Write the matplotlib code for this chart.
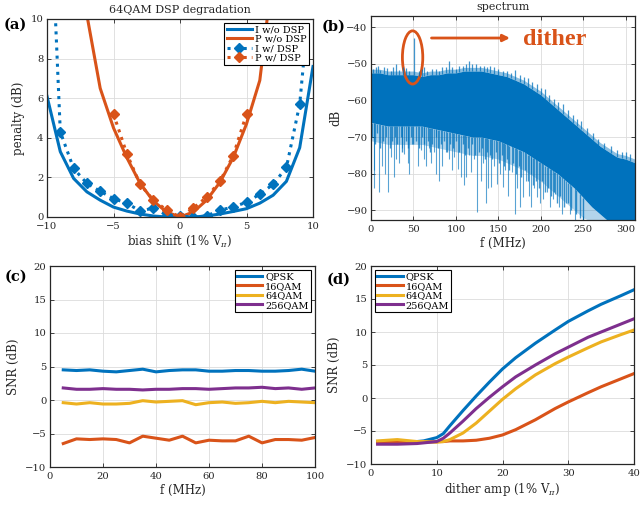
import matplotlib
matplotlib.use("Agg")
import matplotlib.pyplot as plt
from matplotlib.patches import Ellipse
import numpy as np

plt.rcParams["font.family"] = ["DejaVu Serif"]
plt.rcParams["mathtext.fontset"] = "dejavuserif"

BLUE = "#0072BD"
ORANGE = "#D95319"
YELLOW = "#EDB120"
PURPLE = "#7E2F8E"
INK = "#262626"

# ---------------- (a) 64QAM DSP degradation ----------------
bias = [-10, -9, -8, -7, -6, -5, -4, -3, -2, -1, 0, 1, 2, 3, 4, 5, 6, 7, 8, 9, 10]
i_wo_dsp = [6.1, 3.3, 1.95, 1.27, 0.85, 0.5, 0.3, 0.15, 0.05, 0.0, 0.0,
            0.0, 0.05, 0.15, 0.28, 0.42, 0.7, 1.1, 1.8, 3.5, 7.6]
p_wo_bias = [-7, -6, -5, -4, -3, -2, -1, 0, 1, 2, 3, 4, 5, 6, 7]
p_wo_dsp = [10.2, 6.5, 4.5, 3.0, 1.7, 0.8, 0.25, 0.0, 0.25, 0.85, 1.75, 3.0, 4.7, 6.9, 12.5]
i_w_dsp = [20.0, 4.3, 2.45, 1.7, 1.3, 0.93, 0.7, 0.3, 0.45, 0.1, 0.05,
           0.0, 0.05, 0.35, 0.5, 0.75, 1.15, 1.65, 2.5, 5.7, 12.9]
p_w_bias = [-5, -4, -3, -2, -1, 0, 1, 2, 3, 4, 5]
p_w_dsp = [5.2, 3.2, 1.65, 0.85, 0.35, 0.0, 0.45, 1.0, 1.8, 3.1, 5.2]

# ---------------- (b) spectrum ----------------
env_f = [0, 10, 20, 30, 40, 50, 60, 70, 80, 90, 100, 110, 120, 130, 140, 150,
         160, 170, 180, 190, 200, 210, 220, 230, 240, 250, 260, 270, 280, 290, 300, 311]
env_top = [-51.5, -51.5, -52, -52, -52, -52, -52.5, -52, -52, -51.5, -51.5, -51,
           -51, -51, -51.5, -52, -52.5, -53.5, -54.5, -56, -57.5, -59.5, -61.5,
           -63.5, -65.5, -67.5, -69.5, -71.5, -73, -74.5, -75, -76]
env_dark = [-52.5, -52.5, -53, -53, -53, -53, -53.5, -53, -53, -52.5, -52.5, -52,
            -52, -52, -52.5, -53, -53.5, -54.5, -55.5, -57, -58.5, -60.5, -62.5,
            -64.5, -66.5, -68.5, -70.5, -72.5, -74, -75.5, -76, -77]
env_core = [-66, -66.5, -67, -67, -67, -67, -67, -67.5, -68, -68.5, -69, -69.5, -70,
            -70, -70.5, -71, -72, -73, -74, -75.5, -77, -78.5, -80, -82, -84, -86.5,
            -89, -91, -93, -93, -93, -93]
env_light = [-71, -71.5, -72, -72, -72, -72, -72, -72.5, -73, -73.5, -74, -74.5,
             -75, -75, -75.5, -76, -77, -78, -79, -80.5, -82, -84, -86, -88, -90,
             -92, -93, -93, -93, -93, -93, -93]
# deep downward strands
dip_f = [3, 4, 9, 13, 16, 20, 23.5, 27, 30, 33, 36, 39, 43, 45, 48, 55, 59, 62, 65,
         68, 70.5, 74.4, 77, 80, 84, 88, 92, 95, 98, 102, 106, 109, 112, 115, 117.5,
         121, 125, 129, 132, 135, 138, 141, 145, 149, 152, 155, 158, 161.7, 165.6,
         169.5, 172, 175, 179, 183, 186, 189, 192, 195, 199, 203, 207, 211, 214, 217,
         221, 225, 230, 234, 240]
dip_db = [-84, -79, -85, -78, -80, -85, -75.5, -81, -76, -77, -73, -74.5, -77, -80,
          -72, -78, -73.6, -76, -78, -73, -77, -74, -80, -82, -78, -74, -76, -79,
          -75.5, -78.6, -81, -83, -81, -75, -79.5, -76, -90.5, -82, -77, -88, -84,
          -83.6, -78, -82.7, -80, -83.6, -79, -86, -79.5, -91, -84, -89, -86.4, -82,
          -86, -89, -84, -86.4, -88, -87, -85, -89, -87, -85.5, -89, -91, -88, -91,
          -92.7]
# shallower downward strands just under the dense core
mid_f = [1, 5, 7, 11, 14, 18, 22, 25, 28, 31, 35, 37, 41, 44, 47, 50, 53, 57, 60, 63,
         67, 69, 72, 76, 79, 82, 86, 90, 93, 97, 100, 104, 108, 111, 114, 119, 123,
         127, 131, 134, 137, 140, 143, 147, 151, 154, 157, 160, 163, 167, 171, 174,
         177, 181, 185, 188, 191, 194, 198, 201, 205, 208, 212, 216, 219, 223, 227,
         232, 236, 242, 246, 250]
mid_db = [-70, -72, -69, -73, -71, -70, -73, -71, -70, -72, -70, -74, -71, -73, -70,
          -72, -71, -73, -70, -72, -71, -74, -72, -70, -73, -72, -71, -74, -72, -73,
          -71, -74, -72, -75, -73, -72, -75, -74, -73, -76, -74, -75, -76, -74, -77,
          -75, -78, -76, -79, -77, -80, -78, -81, -79, -82, -80, -83, -82, -84, -82,
          -85, -84, -86, -85, -88, -86, -89, -88, -90, -91, -92, -92.5]
# upward strands on the top edge (dither tone at 50 MHz)
peak_f = [2, 6, 8, 11, 15, 19, 23, 26, 29, 33, 38, 41, 45, 51, 57, 60, 63, 66, 72,
          76, 80, 84, 88, 92, 96, 100, 104, 108, 112, 115.5, 119, 124, 128, 133, 137,
          140, 145, 150, 155, 160, 165, 169.5, 175, 180, 185, 190, 195, 200, 205, 210,
          215, 220, 226, 232, 238, 243, 247, 255, 262, 268, 275, 283, 290, 296, 300,
          305]
peak_db = [-51.5, -50.8, -50.5, -51.8, -51, -51.2, -52, -51, -50.2, -51.8, -51, -51.3,
           -52, -43, -52, -51.5, -51, -52, -51.5, -51.5, -52, -51, -51, -49.3, -50.8,
           -51.5, -50.5, -50.5, -50, -49.3, -50.2, -50, -50.5, -50.5, -51, -50.5, -51,
           -51.5, -52, -52, -52.5, -51.6, -53, -53.5, -54, -55, -55.5, -56.5, -57,
           -58.5, -59.5, -60.5, -61, -62.5, -64, -65, -65.5, -67.5, -69, -70.5, -71.5,
           -72.5, -73.5, -74, -74, -74.5]

# ---------------- (c) SNR vs f ----------------
f_mhz = [5, 10, 15, 20, 25, 30, 35, 40, 45, 50, 55, 60, 65, 70, 75, 80, 85, 90, 95, 100]
c_qpsk = [4.5, 4.4, 4.5, 4.3, 4.2, 4.4, 4.6, 4.2, 4.4, 4.5, 4.5, 4.3, 4.3, 4.4, 4.4,
          4.3, 4.3, 4.4, 4.6, 4.3]
c_16qam = [-6.5, -5.8, -5.9, -5.8, -5.9, -6.4, -5.4, -5.7, -6.0, -5.4, -6.4, -6.0,
           -6.1, -6.1, -5.4, -6.4, -5.9, -5.9, -6.0, -5.6]
c_64qam = [-0.4, -0.6, -0.4, -0.6, -0.6, -0.5, -0.1, -0.3, -0.2, -0.1, -0.7, -0.4,
           -0.3, -0.5, -0.4, -0.2, -0.4, -0.2, -0.3, -0.4]
c_256qam = [1.8, 1.6, 1.6, 1.7, 1.6, 1.6, 1.5, 1.6, 1.6, 1.7, 1.7, 1.6, 1.7, 1.8,
            1.8, 1.9, 1.7, 1.8, 1.6, 1.8]

# ---------------- (d) SNR vs dither amplitude ----------------
amp = [1, 4, 7, 8, 10, 11, 12, 14, 16, 18, 20, 22, 25, 28, 30, 33, 35, 38, 40]
d_qpsk = [-6.6, -6.6, -6.6, -6.5, -6.0, -5.4, -4.2, -1.9, 0.3, 2.4, 4.4, 6.1, 8.3,
          10.3, 11.6, 13.2, 14.2, 15.5, 16.4]
d_16qam = [-6.8, -6.7, -6.7, -6.7, -6.6, -6.6, -6.5, -6.5, -6.4, -6.1, -5.6, -4.8,
           -3.3, -1.6, -0.6, 0.8, 1.7, 2.9, 3.7]
d_64qam = [-6.5, -6.3, -6.6, -6.6, -6.7, -6.6, -6.3, -5.3, -3.8, -2.0, -0.2, 1.4,
           3.5, 5.2, 6.2, 7.6, 8.5, 9.6, 10.3]
d_256qam = [-7.0, -7.0, -6.9, -6.8, -6.6, -6.1, -5.3, -3.5, -1.6, 0.1, 1.7, 3.2,
            5.0, 6.7, 7.7, 9.2, 10.0, 11.2, 12.0]


def style(ax):
    ax.tick_params(direction="in", top=True, right=True, length=3, width=0.6,
                   labelsize=7.2, colors=INK, pad=2.5)
    ax.tick_params(axis="x", pad=3.5)
    ax.grid(True, color="#dcdcdc", lw=0.6)
    ax.set_axisbelow(True)
    for s in ax.spines.values():
        s.set_color(INK)
        s.set_linewidth(0.9)


def boxed_legend(ax, loc):
    leg = ax.legend(loc=loc, fontsize=7, handlelength=2.6, labelspacing=0.05,
                    borderpad=0.25, handletextpad=0.3, borderaxespad=0.4,
                    fancybox=False, framealpha=1)
    leg.get_frame().set_edgecolor("black")
    leg.get_frame().set_linewidth(0.8)


fig = plt.figure(figsize=(6.41, 5.05), dpi=100)
W, H = 641.0, 505.0


def add_axes(l, r, t, b):
    return fig.add_axes([l / W, 1 - b / H, (r - l) / W, (b - t) / H])


ax_a = add_axes(47, 313, 19, 217)
ax_b = add_axes(371, 635, 16, 220)
ax_c = add_axes(50, 315, 266, 467)
ax_d = add_axes(371, 634, 266, 464)

# (a)
ax = ax_a
style(ax)
ax.plot(bias, i_wo_dsp, color=BLUE, lw=2.2, label="I w/o DSP")
ax.plot(p_wo_bias, p_wo_dsp, color=ORANGE, lw=2.2, label="P w/o DSP")
ax.plot(bias, i_w_dsp, color=BLUE, lw=2.2, ls=":", marker="D", ms=5, label="I w/ DSP")
ax.plot(p_w_bias, p_w_dsp, color=ORANGE, lw=2.2, ls=":", marker="D", ms=5, label="P w/ DSP")
ax.set_xlim(-10, 10)
ax.set_ylim(0, 10)
ax.set_xticks([-10, -5, 0, 5, 10])
ax.set_yticks([0, 2, 4, 6, 8, 10])
ax.set_title("64QAM DSP degradation", fontsize=8, color=INK, pad=4)
ax.set_xlabel(r"bias shift (1% V$_\pi$)", fontsize=8.5, color=INK, labelpad=2)
ax.set_ylabel("penalty (dB)", fontsize=8.5, color=INK, labelpad=4)
boxed_legend(ax, "upper right")

# (b)
ax = ax_b
style(ax)
ax.fill_between(env_f, env_light, env_core, color=BLUE, alpha=0.3, lw=0)
ax.fill_between(env_f, env_core, env_dark, color=BLUE, lw=0)
ax.fill_between(env_f, env_dark, env_top, color=BLUE, alpha=0.45, lw=0)
core_at_mid = np.interp(mid_f, env_f, env_core)
ax.vlines(mid_f, mid_db, core_at_mid, color=BLUE, lw=1.0, alpha=0.75)
core_at_dips = np.interp(dip_f, env_f, env_core)
ax.vlines(dip_f, dip_db, core_at_dips, color=BLUE, lw=0.8, alpha=0.65)
dark_at_peaks = np.interp(peak_f, env_f, env_dark)
ax.vlines(peak_f, dark_at_peaks, peak_db, color=BLUE, lw=0.9, alpha=0.75)
ax.set_xlim(0, 311)
ax.set_ylim(-92.6, -37)
ax.set_xticks([0, 50, 100, 150, 200, 250, 300])
ax.set_yticks([-90, -80, -70, -60, -50, -40])
ax.set_title("spectrum", fontsize=8, color=INK, pad=4)
ax.set_xlabel("f (MHz)", fontsize=8.5, color=INK, labelpad=2)
ax.set_ylabel("dB", fontsize=8.5, color=INK, labelpad=3)
ax.add_patch(Ellipse((49, -48.3), 24, 14.5, fill=False, ec=ORANGE, lw=2))
ax.annotate("", xy=(167, -43), xytext=(68, -43),
            arrowprops=dict(arrowstyle="-|>", color=ORANGE, lw=2, mutation_scale=10))
ax.text(179, -43.3, "dither", color=ORANGE, fontsize=17.5, fontweight="bold",
        family="Liberation Serif", va="center", ha="left")

# (c)
ax = ax_c
style(ax)
ax.plot(f_mhz, c_qpsk, color=BLUE, lw=2.2, label="QPSK")
ax.plot(f_mhz, c_16qam, color=ORANGE, lw=2.2, label="16QAM")
ax.plot(f_mhz, c_64qam, color=YELLOW, lw=2.2, label="64QAM")
ax.plot(f_mhz, c_256qam, color=PURPLE, lw=2.2, label="256QAM")
ax.set_xlim(0, 100)
ax.set_ylim(-10, 20)
ax.set_xticks([0, 20, 40, 60, 80, 100])
ax.set_yticks([-10, -5, 0, 5, 10, 15, 20])
ax.set_xlabel("f (MHz)", fontsize=8.5, color=INK, labelpad=2)
ax.set_ylabel("SNR (dB)", fontsize=8.5, color=INK, labelpad=4)
boxed_legend(ax, "upper right")

# (d)
ax = ax_d
style(ax)
ax.plot(amp, d_qpsk, color=BLUE, lw=2.2, label="QPSK")
ax.plot(amp, d_16qam, color=ORANGE, lw=2.2, label="16QAM")
ax.plot(amp, d_64qam, color=YELLOW, lw=2.2, label="64QAM")
ax.plot(amp, d_256qam, color=PURPLE, lw=2.2, label="256QAM")
ax.set_xlim(0, 40)
ax.set_ylim(-10, 20)
ax.set_xticks([0, 10, 20, 30, 40])
ax.set_yticks([-10, -5, 0, 5, 10, 15, 20])
ax.set_xlabel(r"dither amp (1% V$_\pi$)", fontsize=8.5, color=INK, labelpad=2)
ax.set_ylabel("SNR (dB)", fontsize=8.5, color=INK, labelpad=4)
boxed_legend(ax, "upper left")

# panel letters
for label, x, y in [("(a)", 4, 25), ("(b)", 322, 27), ("(c)", 5, 277), ("(d)", 327, 280)]:
    fig.text(x / W, 1 - y / H, label, fontsize=10.5, fontweight="bold", color="black",
             va="center", ha="left")

fig.savefig("out.png", dpi=100)
